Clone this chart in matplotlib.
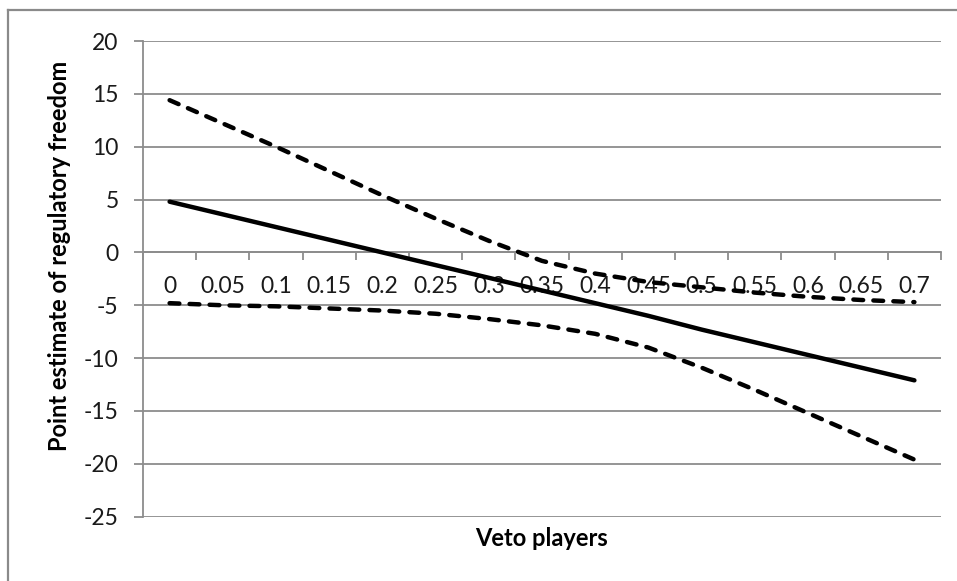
import matplotlib
matplotlib.use("Agg")
import matplotlib.pyplot as plt
from matplotlib.lines import Line2D
import numpy as np

plt.rcParams['font.family'] = ['Lato', 'DejaVu Sans']

# marginal effect of veto players with its confidence band
veto_labels = ['0', '0.05', '0.1', '0.15', '0.2', '0.25', '0.3', '0.35',
               '0.4', '0.45', '0.5', '0.55', '0.6', '0.65', '0.7']
estimate = [4.8, 3.6, 2.4, 1.2, 0.0, -1.2, -2.4, -3.6,
            -4.8, -6.0, -7.3, -8.5, -9.7, -10.9, -12.1]
upper_ci = [14.4, 12.2, 10.0, 7.7, 5.4, 3.2, 1.1, -0.8,
            -2.0, -2.8, -3.3, -3.8, -4.2, -4.5, -4.7]
lower_ci = [-4.8, -5.0, -5.1, -5.3, -5.5, -5.8, -6.3, -6.9,
            -7.7, -9.0, -10.9, -13.0, -15.2, -17.4, -19.6]
y_ticks = [-25, -20, -15, -10, -5, 0, 5, 10, 15, 20]

grid_col = '#8c8c8c'
text_col = '#1a1a1a'

fig = plt.figure(figsize=(9.57, 5.81), dpi=100)
ax = fig.add_axes([143 / 957, 1 - 516.7 / 581, 798 / 957, 475.7 / 581])

x = np.arange(len(veto_labels))
ax.plot(x, estimate, color='black', lw=3.2, solid_capstyle='round', zorder=3)
for band in (upper_ci, lower_ci):
    ax.plot(x, band, color='black', lw=3.2, dashes=[2.2, 2.3],
            dash_capstyle='round', zorder=3)

ax.set_xlim(-0.5, len(veto_labels) - 0.5)
ax.set_ylim(-25, 20)
ax.set_yticks(y_ticks)
ax.set_yticklabels([str(v) for v in y_ticks])
ax.yaxis.grid(True, color=grid_col, lw=1.3)
ax.set_axisbelow(True)

# category axis crosses at zero, ticks between categories
ax.spines['bottom'].set_position(('data', 0))
ax.spines['bottom'].set_color(grid_col)
ax.spines['bottom'].set_linewidth(1.3)
ax.spines['left'].set_color(grid_col)
ax.spines['left'].set_linewidth(1.3)
ax.spines['top'].set_visible(False)
ax.spines['right'].set_visible(False)

ax.set_xticks(np.arange(-0.5, len(veto_labels), 1.0))
ax.set_xticklabels([])
ax.set_xticks(x, minor=True)
ax.set_xticklabels(veto_labels, minor=True)
ax.tick_params(axis='x', which='major', direction='out', length=6,
               color=grid_col, width=1.3)
ax.tick_params(axis='x', which='minor', length=0, pad=17, labelsize=16.5,
               labelcolor=text_col)
ax.tick_params(axis='y', direction='out', length=6.5, color=grid_col,
               width=1.3, pad=11, labelsize=16.5, labelcolor=text_col)

ax.set_xlabel('Veto players', fontsize=17, fontweight='bold', va='center')
ax.xaxis.set_label_coords(0.499, -0.045)
ax.set_ylabel('Point estimate of regulatory freedom', fontsize=17,
              fontweight='bold', va='center')
ax.yaxis.set_label_coords(-0.105, 0.548)

# chart frame, only top and left edges show
fig.add_artist(Line2D([8 / 957, 8 / 957], [0, 1 - 10 / 581],
                      color='#8a8a8a', lw=1.6))
fig.add_artist(Line2D([8 / 957, 1], [1 - 10 / 581, 1 - 10 / 581],
                      color='#8a8a8a', lw=1.6))

fig.savefig('out.png', dpi=100)
